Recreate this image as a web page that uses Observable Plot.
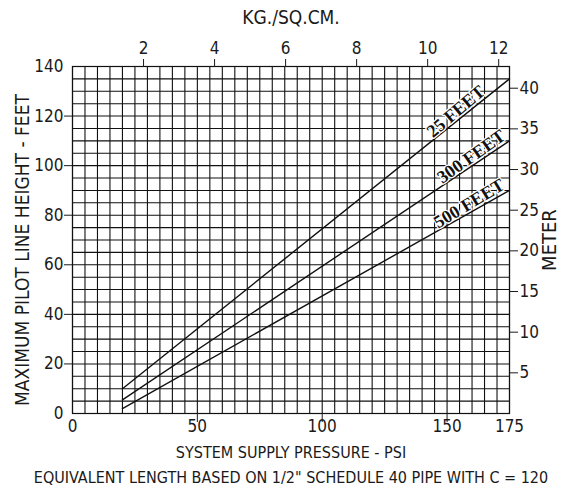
<!DOCTYPE html>
<html>
<head>
<meta charset="utf-8">
<script src="https://cdn.jsdelivr.net/npm/d3@7"></script>
<script src="https://cdn.jsdelivr.net/npm/@observablehq/plot@0.6"></script>
<style>
  html, body { margin: 0; padding: 0; background: #fff; }
  #chart svg { display: block; }
</style>
</head>
<body>
<div id="chart"></div>
<script>
// ---- data ----
const seriesNames = ["25 FEET", "300 FEET", "500 FEET"];
const pressurePsi = [20, 175];          // line start / end (PSI)
const height25 = [10, 135];             // feet
const height300 = [5.5, 110];
const height500 = [2, 90];

const psiTicks = [0, 50, 100, 150, 175];
const psiMajorTicks = [50, 100, 150];
const feetTicks = [0, 20, 40, 60, 80, 100, 120, 140];
const feetTickMarks = [20, 40, 60, 80, 100, 120];
const kgTicks = [2, 4, 6, 8, 10, 12];
const meterTicks = [5, 10, 15, 20, 25, 30, 35, 40];

const labelPsi = [155, 161, 160];       // where the curve labels sit along each line

const PSI_PER_KG = 14.223;
const FT_PER_M = 3.281;

// ---- build table ----
const heights = [height25, height300, height500];
const lines = [];
seriesNames.forEach((s, i) => {
  pressurePsi.forEach((p, j) => lines.push({series: s, psi: p, feet: heights[i][j]}));
});
const labels = seriesNames.map((s, i) => {
  const h = heights[i];
  const slope = (h[1] - h[0]) / (pressurePsi[1] - pressurePsi[0]);
  return {series: s, psi: labelPsi[i], feet: h[0] + slope * (labelPsi[i] - pressurePsi[0]), slope};
});

const W = 561, H = 493;
const mL = 72, mR = 52, mT = 66, mB = 80;
const pxPerPsi = (W - mL - mR) / 175;
const pxPerFt = (H - mT - mB) / 140;
labels.forEach(d => d.angle = -Math.atan(d.slope * pxPerFt / pxPerPsi) * 180 / Math.PI - 1.5);

const gridX = d3.range(0, 176, 5);
const gridY = d3.range(0, 141, 5);

const FONT = "'Liberation Sans Narrow', 'DejaVu Sans Condensed', sans-serif";
const INK = "#1a1a1a";

const chart = Plot.plot({
  width: W,
  height: H,
  marginLeft: mL,
  marginRight: mR,
  marginTop: mT,
  marginBottom: mB,
  style: {fontFamily: FONT, fontSize: "17px", color: INK, background: "#fff"},
  x: {domain: [0, 175]},
  y: {domain: [0, 140]},
  marks: [
    Plot.ruleX(gridX, {stroke: "#111", strokeWidth: 1.1}),
    Plot.ruleY(gridY, {stroke: "#111", strokeWidth: 1.1}),
    Plot.frame({stroke: "#111", strokeWidth: 1.2}),
    Plot.line(lines, {x: "psi", y: "feet", z: "series", stroke: "#111", strokeWidth: 1.4}),
    Plot.text(labels, {
      x: "psi", y: "feet", text: "series", rotate: d => d.angle,
      lineAnchor: "bottom", textAnchor: "middle", dy: -3,
      fontFamily: "'Liberation Serif', serif", fontWeight: "bold", fontSize: 18,
      fill: "#111", stroke: "#fff", strokeWidth: 2.5, paintOrder: "stroke"
    }),
    // bottom axis
    Plot.axisX({ticks: psiTicks, tickSize: 0, tickPadding: 6, label: null, fontSize: 17}),
    Plot.axisX({ticks: psiMajorTicks, tickSize: 9, tickFormat: () => "", label: null}),
    // top axis (kg / sq.cm)
    Plot.axisX({anchor: "top", ticks: kgTicks.map(k => k * PSI_PER_KG),
      tickFormat: d => String(Math.round(d / PSI_PER_KG)), tickSize: 8, tickPadding: 5, label: null, fontSize: 17}),
    // left axis
    Plot.axisY({ticks: feetTicks, tickSize: 0, tickPadding: 9, label: null, fontSize: 17}),
    Plot.axisY({ticks: feetTickMarks, tickSize: 8, tickFormat: () => "", label: null}),
    // right axis (meters)
    Plot.axisY({anchor: "right", ticks: meterTicks.map(m => m * FT_PER_M),
      tickFormat: d => String(Math.round(d / FT_PER_M)), tickSize: 8, tickPadding: 2, label: null, fontSize: 17}),
    // titles
    Plot.text(["KG./SQ.CM."], {frameAnchor: "top", dy: -49, textAnchor: "middle", lineAnchor: "middle", fontSize: 19, fill: INK}),
    Plot.text(["SYSTEM SUPPLY PRESSURE - PSI"], {frameAnchor: "bottom", dy: 39, textAnchor: "middle", lineAnchor: "middle", fontSize: 16, fill: INK}),
    Plot.text(["EQUIVALENT LENGTH BASED ON 1/2\" SCHEDULE 40 PIPE WITH C = 120"], {frameAnchor: "bottom", dy: 64, textAnchor: "middle", lineAnchor: "middle", fontSize: 16, fill: INK}),
    Plot.text(["MAXIMUM PILOT LINE HEIGHT - FEET"], {frameAnchor: "left", dx: -50, dy: 10, rotate: -90, textAnchor: "middle", lineAnchor: "middle", fontSize: 19, fill: INK}),
    Plot.text(["METER"], {frameAnchor: "right", dx: 40, rotate: -90, textAnchor: "middle", lineAnchor: "middle", fontSize: 20, fill: INK})
  ]
});
document.getElementById("chart").appendChild(chart);
</script>
</body>
</html>
